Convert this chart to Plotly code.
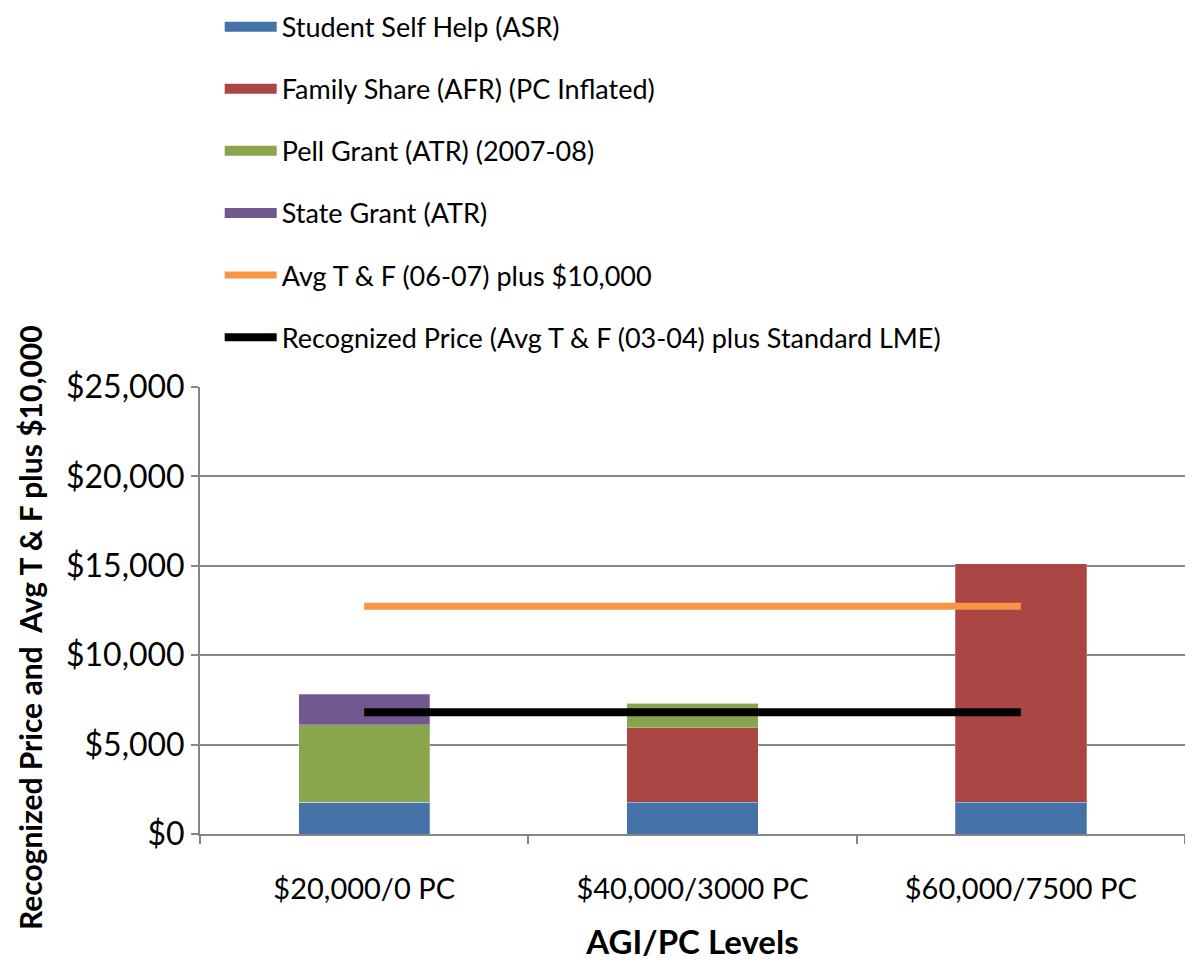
import plotly.graph_objects as go

categories = ['$20,000/0 PC', '$40,000/3000 PC', '$60,000/7500 PC']
student_self_help = [1770, 1770, 1770]
family_share = [0, 4170, 13340]
pell_grant = [4350, 1370, 0]
state_grant = [1700, 0, 0]
avg_tf_plus_10k = [12740, 12740, 12740]
recognized_price = [6810, 6810, 6810]

bar_series = [
    ('Student Self Help (ASR)', student_self_help, '#4572A7'),
    ('Family Share (AFR) (PC Inflated)', family_share, '#AA4643'),
    ('Pell Grant (ATR) (2007-08)', pell_grant, '#89A54E'),
    ('State Grant (ATR)', state_grant, '#71588F'),
]
line_series = [
    ('Avg T & F (06-07) plus $10,000', avg_tf_plus_10k, '#F79646', 7),
    ('Recognized Price (Avg T & F (03-04) plus Standard LME)', recognized_price, '#000000', 8),
]

font_name = 'Lato'
fig = go.Figure()

for name, vals, color in bar_series:
    fig.add_trace(go.Bar(
        x=categories, y=vals, name=name, legendgroup=name,
        marker=dict(color=color, line=dict(color='rgba(255,255,255,0.5)', width=0.5)),
        showlegend=False))
    # wide swatch for the legend
    fig.add_trace(go.Scatter(
        x=[None], y=[None], mode='lines', name=name, legendgroup=name,
        line=dict(color=color, width=16)))

for name, vals, color, w in line_series:
    fig.add_trace(go.Scatter(
        x=categories, y=vals, name=name, legendgroup=name, mode='lines',
        line=dict(color=color, width=w)))

fig.update_layout(
    barmode='stack', bargap=0.6,
    plot_bgcolor='white', paper_bgcolor='white',
    margin=dict(l=192, r=0, t=379, b=127, autoexpand=False),
    font=dict(family=font_name, size=28, color='black'),
    showlegend=True,
    legend=dict(
        x=0.02, y=1.86, xanchor='left', yanchor='top',
        traceorder='grouped', tracegroupgap=24,
        font=dict(size=27), itemwidth=52,
        bgcolor='rgba(0,0,0,0)'),
    xaxis=dict(
        title=dict(text='<b>AGI/PC Levels</b>', font=dict(size=33), standoff=38),
        tickfont=dict(size=29),
        showline=True, linecolor='#868686', linewidth=2,
        ticks='outside', tickson='boundaries', ticklen=8, tickcolor='#868686', tickwidth=2,
        ticklabelstandoff=28,
        showgrid=False),
    yaxis=dict(
        range=[0, 25000], dtick=5000, tickprefix='$', tickformat=',d',
        tickfont=dict(size=32),
        showline=True, linecolor='#868686', linewidth=2,
        ticks='outside', ticklen=7, tickcolor='#868686', tickwidth=2,
        showgrid=True, gridcolor='#868686', gridwidth=2,
        zeroline=False),
    annotations=[dict(
        text='<b>Recognized Price and  Avg T & F plus $10,000</b>',
        xref='paper', yref='paper', x=-0.172, y=0.462,
        xanchor='center', yanchor='middle', textangle=-90,
        showarrow=False, font=dict(size=30))],
)

fig.write_html('out.html')
